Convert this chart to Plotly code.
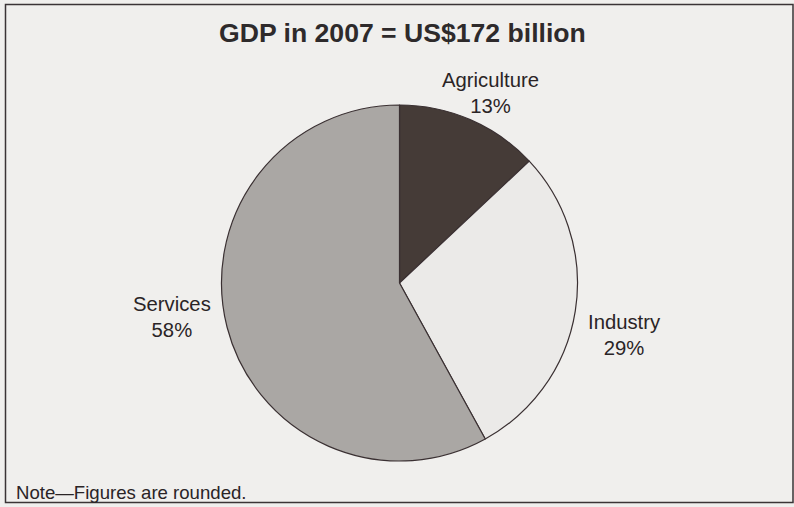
import plotly.graph_objects as go

# ---- data ----
sectors = ["Agriculture", "Industry", "Services"]
shares = [13, 29, 58]
colors = ["#453b37", "#ebeae8", "#aaa7a4"]
title_text = "GDP in 2007 = US$172 billion"
note_text = "Note\u2014Figures are rounded."

W, H = 794, 507
FONT = "Liberation Sans, Arial, Helvetica, sans-serif"
TXT = "#2a2426"


def px(x):
    return x / W


def py(y):
    return 1 - y / H


fig = go.Figure()
fig.add_trace(go.Pie(
    labels=sectors,
    values=shares,
    sort=False,
    direction="clockwise",
    rotation=0,
    textinfo="none",
    hoverinfo="label+percent",
    showlegend=False,
    marker=dict(colors=colors, line=dict(color="#3a3032", width=1.2)),
    domain=dict(x=[px(221.5), px(577.5)], y=[py(461), py(105)]),
))

# label placement (pixel centres of each label block)
label_pos = {"Agriculture": (490, 93.5), "Industry": (624, 335), "Services": (171.5, 317)}

annotations = []
for name, val in zip(sectors, shares):
    x, y = label_pos[name]
    annotations.append(dict(
        x=px(x), y=py(y), xref="paper", yref="paper",
        text=f"{name}<br>{val}%", showarrow=False,
        xanchor="center", yanchor="middle", align="center",
        font=dict(family=FONT, size=20.3, color=TXT),
    ))

annotations.append(dict(
    x=px(402), y=py(33), xref="paper", yref="paper",
    text=f"<b>{title_text}</b>", showarrow=False,
    xanchor="center", yanchor="middle",
    font=dict(family=FONT, size=26.6, color="#2e2a2b"),
))
annotations.append(dict(
    x=px(14), y=py(492.5), xref="paper", yref="paper",
    text=note_text, showarrow=False,
    xanchor="left", yanchor="middle",
    font=dict(family=FONT, size=18.6, color=TXT),
))

fig.update_layout(
    width=W, height=H,
    margin=dict(l=0, r=0, t=0, b=0),
    paper_bgcolor="#f0efed",
    plot_bgcolor="#f0efed",
    annotations=annotations,
    shapes=[dict(type="rect", xref="paper", yref="paper",
                 x0=px(5.5), x1=px(793), y0=py(502.5), y1=py(4.5),
                 line=dict(color="#3a3436", width=1.5))],
)

fig.write_html(
    "out.html",
    config={"displayModeBar": False},
    post_script="document.body.style.margin='0';document.body.style.background='#f0efed';",
)
